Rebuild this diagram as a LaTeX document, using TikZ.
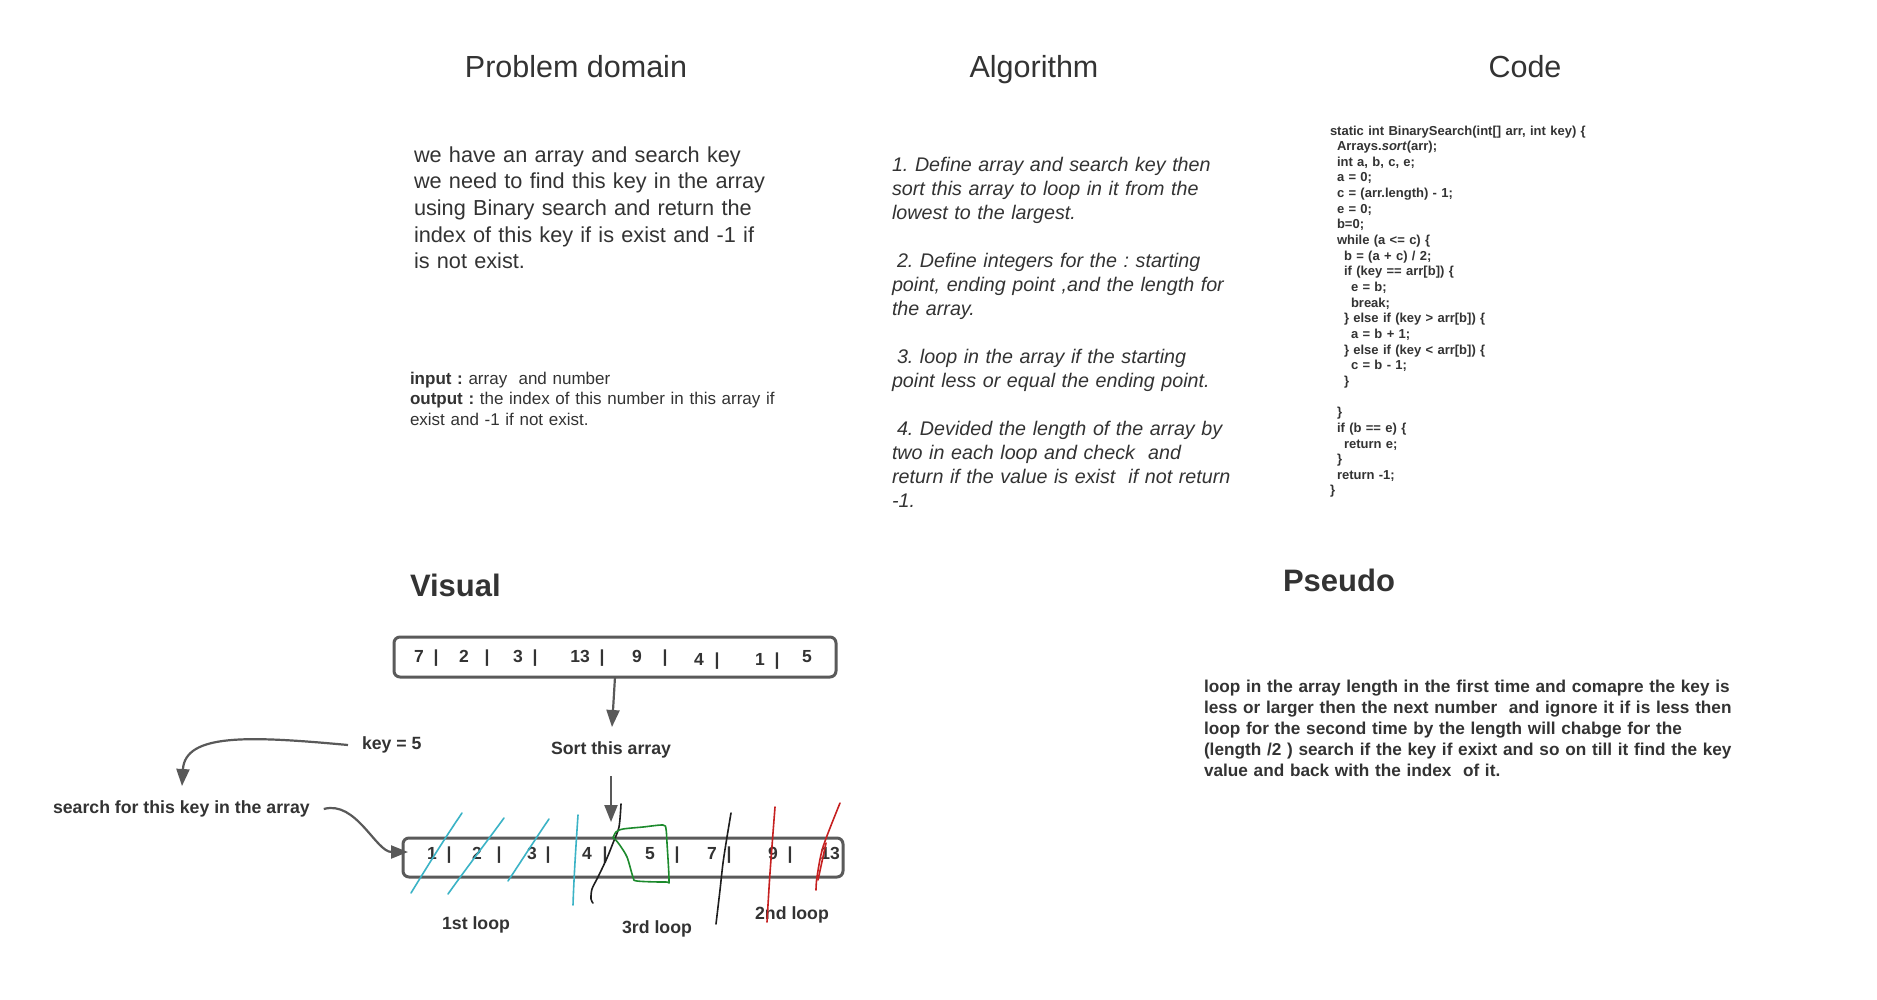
\documentclass[tikz,border=0pt]{standalone}
\usepackage{fontspec}
\setmainfont{Liberation Sans}
\usetikzlibrary{arrows.meta}
\definecolor{txt}{HTML}{333333}
\definecolor{boxc}{HTML}{5A5A5A}
\definecolor{arrc}{HTML}{595959}
\definecolor{cyanh}{HTML}{3BB3C6}
\definecolor{redh}{HTML}{C62020}
\definecolor{greenh}{HTML}{1C8A2C}
\definecolor{blackh}{HTML}{1E1E1E}
\begin{document}
\frenchspacing
\begin{tikzpicture}[x=1pt,y=-1pt,
  every node/.style={text=txt, inner sep=0pt, outer sep=0pt},
  title/.style={anchor=base, font=\fontsize{30.5pt}{36pt}\selectfont},
  bigbold/.style={anchor=base west, font=\bfseries\fontsize{31pt}{36pt}\selectfont},
  para/.style={anchor=base west, align=left, text width=#1},
  num/.style={anchor=base, font=\bfseries\fontsize{17.5pt}{20pt}\selectfont},
  lbl/.style={font=\bfseries\fontsize{17.7pt}{21pt}\selectfont},
  arraybox/.style={draw=boxc, line width=3pt, rounded corners=6pt},
  arr/.style={draw=arrc, line width=2.2pt, -{Triangle[length=17pt,width=13pt]}},
  hand/.style={line width=1.6pt, line cap=round, line join=round}]
\useasboundingbox[fill=white] (0,0) rectangle (1877,999);

% headers
\node[title] (h1) at (576,77) {Problem domain};
\node[title] (h2) at (1034,77) {Algorithm};
\node[title] (h3) at (1525,77) {Code};

% problem domain
\node[para=420pt, font=\fontsize{21.7pt}{26.7pt}\selectfont] (pd) at (414,162)
{we have an array and search key\\
we need to find this key in the array\\
using Binary search and return the\\
index of this key if is exist and -1 if\\
is not exist.};

\node[para=440pt, font=\fontsize{17pt}{20.5pt}\selectfont] (io) at (410,384)
{\textbf{input :} array\ \ and number\\
\textbf{output :} the index of this number in this array if\\
exist and -1 if not exist.};

% algorithm
\node[para=400pt, font=\itshape\fontsize{19.7pt}{24pt}\selectfont] (alg) at (892,171)
{1. Define array and search key then\\
sort this array to loop in it from the\\
lowest to the largest.\\
\mbox{}\\
\hspace*{5pt}2. Define integers for the : starting\\
point, ending point ,and the length for\\
the array.\\
\mbox{}\\
\hspace*{5pt}3. loop in the array if the starting\\
point less or equal the ending point.\\
\mbox{}\\
\hspace*{5pt}4. Devided the length of the array by\\
two in each loop and check\ \ and\\
return if the value is exist\ \ if not return\\
-1.};

% code
\node[para=360pt, font=\bfseries\fontsize{13pt}{15.65pt}\selectfont] (code) at (1330,135)
{static int BinarySearch(int[] arr, int key) \{\\
\hspace*{7pt}Arrays.\textit{sort}(arr);\\
\hspace*{7pt}int a, b, c, e;\\
\hspace*{7pt}a = 0;\\
\hspace*{7pt}c = (arr.length) - 1;\\
\hspace*{7pt}e = 0;\\
\hspace*{7pt}b=0;\\
\hspace*{7pt}while (a <= c) \{\\
\hspace*{14pt}b = (a + c) / 2;\\
\hspace*{14pt}if (key == arr[b]) \{\\
\hspace*{21pt}e = b;\\
\hspace*{21pt}break;\\
\hspace*{14pt}\} else if (key > arr[b]) \{\\
\hspace*{21pt}a = b + 1;\\
\hspace*{14pt}\} else if (key < arr[b]) \{\\
\hspace*{21pt}c = b - 1;\\
\hspace*{14pt}\}\\
\mbox{}\\
\hspace*{7pt}\}\\
\hspace*{7pt}if (b == e) \{\\
\hspace*{14pt}return e;\\
\hspace*{7pt}\}\\
\hspace*{7pt}return -1;\\
\}};

% visual / pseudo titles
\node[bigbold] (vis) at (410,596) {Visual};
\node[bigbold] (pse) at (1283,591) {Pseudo};

\node[para=620pt, font=\bfseries\fontsize{17.2pt}{21.1pt}\selectfont] (ps) at (1204,692)
{loop in the array length in the first time and comapre the key is\\
less or larger then the next number\ \ and ignore it if is less then\\
loop for the second time by the length will chabge for the\\
(length /2 ) search if the key if exixt and so on till it find the key\\
value and back with the index\ \ of it.};

% arrays
\node[arraybox, minimum width=442pt, minimum height=40pt] (top) at (615,657) {};
\foreach \t/\x/\y [count=\i] in {7/419/662, |/436/662, 2/464/662, |/487/662, 3/518/662, |/535/662,
  13/580/662, |/602/662, 9/637/662, |/665/662, 4/699/665, |/717/665, 1/760/665, |/777/665, 5/807/662}
  \node[num] (t\i) at (\x,\y) {\t};

\node[arraybox, minimum width=440pt, minimum height=39pt] (bot) at (623,857.5) {};
\foreach \t/\x [count=\i] in {1/432, |/449, 2/477, |/499, 3/532, |/548, 4/587, |/605,
  5/650, |/677, 7/712, |/729, 9/773, |/790, 13/830}
  \node[num] (b\i) at (\x,859) {\t};

% labels
\node[lbl] (sort) at (611,750) {Sort this array};
\node[lbl, anchor=west] (key) at (362,745) {key = 5};
\node[lbl, anchor=west] (search) at (53,809) {search for this key in the array};
\node[lbl] (l1) at (476,925) {1st loop};
\node[lbl] (l3) at (657,929) {3rd loop};
\node[lbl] (l2) at (792,915) {2nd loop};

% connectors
\coordinate (sorttip) at (612,727);
\coordinate (downtip) at (611,822);
\coordinate (keytip) at (182,786);
\draw[arr] (top.south) -- (sorttip);
\draw[arr, shorten <=18pt] (sort.south) -- (downtip);
\draw[arr] ([xshift=-14pt]key.west) .. controls (250,736) and (185,733) .. (keytip);
\draw[arr] ([xshift=14pt]search.east) .. controls (356,800) and (376,852) .. ([xshift=5pt]bot.west |- 0,852);

% hand-drawn strokes
\begin{scope}[hand]
\draw[cyanh] (411,893) .. controls (430,862) and (445,838) .. (462,813);
\draw[cyanh] (448,894) .. controls (468,866) and (488,840) .. (504,818);
\draw[cyanh] (508,881) .. controls (522,860) and (536,838) .. (549,819);
\draw[cyanh] (573,905) .. controls (574,875) and (576,845) .. (578,815);
\draw[blackh] plot[smooth] coordinates {(593,903) (591,899) (592,889) (598,877) (607,858) (613,843) (619,827) (621,804)};
\draw[greenh] plot[smooth] coordinates {(613,838) (616,832) (623,829) (643,827) (663,825) (666,829) (667,843) (669,880) (666,882) (637,881) (633,877) (627,857) (619,844) (613,837)};
\draw[blackh] plot[smooth] coordinates {(716,924) (720,890) (723,863) (727,837) (731,813)};
\draw[redh] plot[smooth] coordinates {(767,922) (770,873) (775,807)};
\draw[redh] plot[smooth] coordinates {(816,890) (817,877) (823,847) (840,803)};
\draw[redh] (818,880) -- (826,843);
\end{scope}
\end{tikzpicture}
\end{document}
